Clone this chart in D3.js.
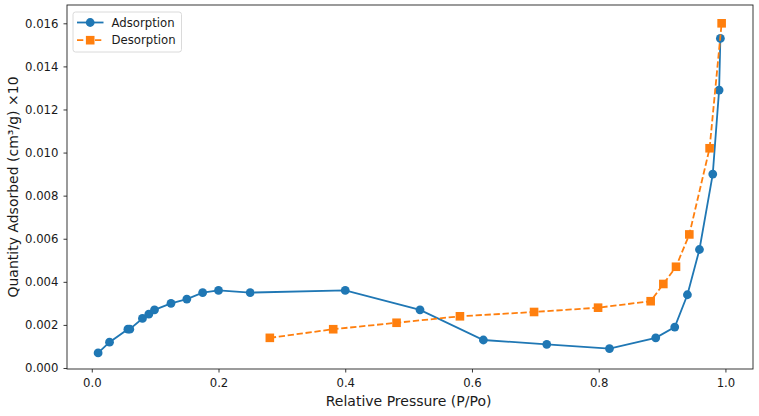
<!DOCTYPE html>
<html>
<head>
<meta charset="utf-8">
<script src="https://cdn.jsdelivr.net/npm/d3@7"></script>
<style>
  body { margin: 0; background: #fff; }
  text { font-family: "DejaVu Sans", sans-serif; fill: #1a1a1a; }
</style>
</head>
<body>
<div id="chart"></div>
<script>
// isotherm data
const adsP = [0.010, 0.028, 0.057, 0.060, 0.080, 0.090, 0.099, 0.125, 0.150, 0.175, 0.200,
    0.250, 0.400, 0.518, 0.618, 0.718, 0.817, 0.890, 0.920, 0.940, 0.959, 0.980, 0.990, 0.992];
const adsQ = [0.0007, 0.0012, 0.0018, 0.0018, 0.0023, 0.0025, 0.0027, 0.0030, 0.0032, 0.0035, 0.0036,
    0.0035, 0.0036, 0.0027, 0.0013, 0.0011, 0.0009, 0.0014, 0.0019, 0.0034, 0.0055, 0.0090, 0.0129, 0.0153];

const desP = [0.281, 0.381, 0.481, 0.581, 0.698, 0.799, 0.882, 0.902, 0.922, 0.943, 0.975, 0.994];
const desQ = [0.0014, 0.0018, 0.0021, 0.0024, 0.0026, 0.0028, 0.0031, 0.0039, 0.0047, 0.0062, 0.0102, 0.0160];

const xTicks = [0.0, 0.2, 0.4, 0.6, 0.8, 1.0];
const yTicks = [0.000, 0.002, 0.004, 0.006, 0.008, 0.010, 0.012, 0.014, 0.016];

const series = [
    { name: "Adsorption", p: adsP, q: adsQ, color: "#1f77b4", marker: "circle", dash: null },
    { name: "Desorption", p: desP, q: desQ, color: "#ff7f0e", marker: "square", dash: "6.3,2.7" }
];

// set the dimensions and margins of the graph
const W = 759, H = 416;
const margin = { top: 5, bottom: 47, right: 6, left: 67 };
const width = W - margin.left - margin.right;
const height = H - margin.top - margin.bottom;
const tickFs = 11.7;
const labelFs = 14;

const svg = d3.select("#chart")
    .append("svg")
    .attr("width", W)
    .attr("height", H);

const g = svg.append("g")
    .attr("transform", `translate(${margin.left},${margin.top})`);

const x = d3.scaleLinear().domain([-0.0391, 1.0435]).range([0, width]);
const y = d3.scaleLinear().domain([-0.0000464, 0.01685]).range([height, 0]);

// axes
const xAxis = g.append("g")
    .attr("transform", `translate(0,${height})`)
    .call(d3.axisBottom(x).tickValues(xTicks).tickFormat(d3.format(".1f")).tickSizeOuter(0).tickSize(3.5).tickPadding(6.5));
const yAxis = g.append("g")
    .call(d3.axisLeft(y).tickValues(yTicks).tickFormat(d3.format(".3f")).tickSizeOuter(0).tickSize(3.5).tickPadding(5));

[xAxis, yAxis].forEach(a => {
    a.select(".domain").remove();
    a.selectAll("line").attr("stroke", "#222").attr("stroke-width", 0.9);
    a.selectAll("text").style("font-size", tickFs + "px").attr("fill", "#1a1a1a");
});

// frame
g.append("rect")
    .attr("width", width)
    .attr("height", height)
    .attr("fill", "none")
    .attr("stroke", "#222")
    .attr("stroke-width", 0.9);

// axis labels
svg.append("text")
    .attr("x", margin.left + x(0.5))
    .attr("y", 406)
    .attr("text-anchor", "middle")
    .style("font-size", labelFs + "px")
    .text("Relative Pressure (P/Po)");

svg.append("text")
    .attr("transform", `translate(17.5,${margin.top + height / 2}) rotate(-90)`)
    .attr("text-anchor", "middle")
    .style("font-size", labelFs + "px")
    .text("Quantity Adsorbed (cm³/g) ×10");

const line = d3.line().x(d => x(d[0])).y(d => y(d[1]));

function drawMarker(sel, s, cx, cy) {
    if (s.marker === "circle") {
        sel.append("circle").attr("cx", cx).attr("cy", cy).attr("r", 4.4).attr("fill", s.color);
    } else {
        sel.append("rect").attr("x", cx - 4.3).attr("y", cy - 4.3)
            .attr("width", 8.6).attr("height", 8.6).attr("fill", s.color);
    }
}

series.forEach(s => {
    const pts = s.p.map((p, i) => [p, s.q[i]]);
    g.append("path")
        .datum(pts)
        .attr("d", line)
        .attr("fill", "none")
        .attr("stroke", s.color)
        .attr("stroke-width", 1.8)
        .attr("stroke-dasharray", s.dash);
    const mk = g.append("g");
    pts.forEach(d => drawMarker(mk, s, x(d[0]), y(d[1])));
});

// legend
const lg = svg.append("g").attr("transform", "translate(73,12)");
lg.append("rect")
    .attr("width", 108.5).attr("height", 40)
    .attr("rx", 2.5)
    .attr("fill", "#fff").attr("fill-opacity", 0.8)
    .attr("stroke", "#d6d6d6").attr("stroke-width", 0.9);
series.forEach((s, i) => {
    const cy = 10.5 + i * 17.7;
    lg.append("line")
        .attr("x1", 4).attr("x2", 30.5).attr("y1", cy).attr("y2", cy)
        .attr("stroke", s.color).attr("stroke-width", 1.8)
        .attr("stroke-dasharray", s.dash);
    drawMarker(lg, s, 17.2, cy);
    lg.append("text")
        .attr("x", 38.5).attr("y", cy).attr("dy", "0.35em")
        .style("font-size", tickFs + "px")
        .text(s.name);
});
</script>
</body>
</html>
